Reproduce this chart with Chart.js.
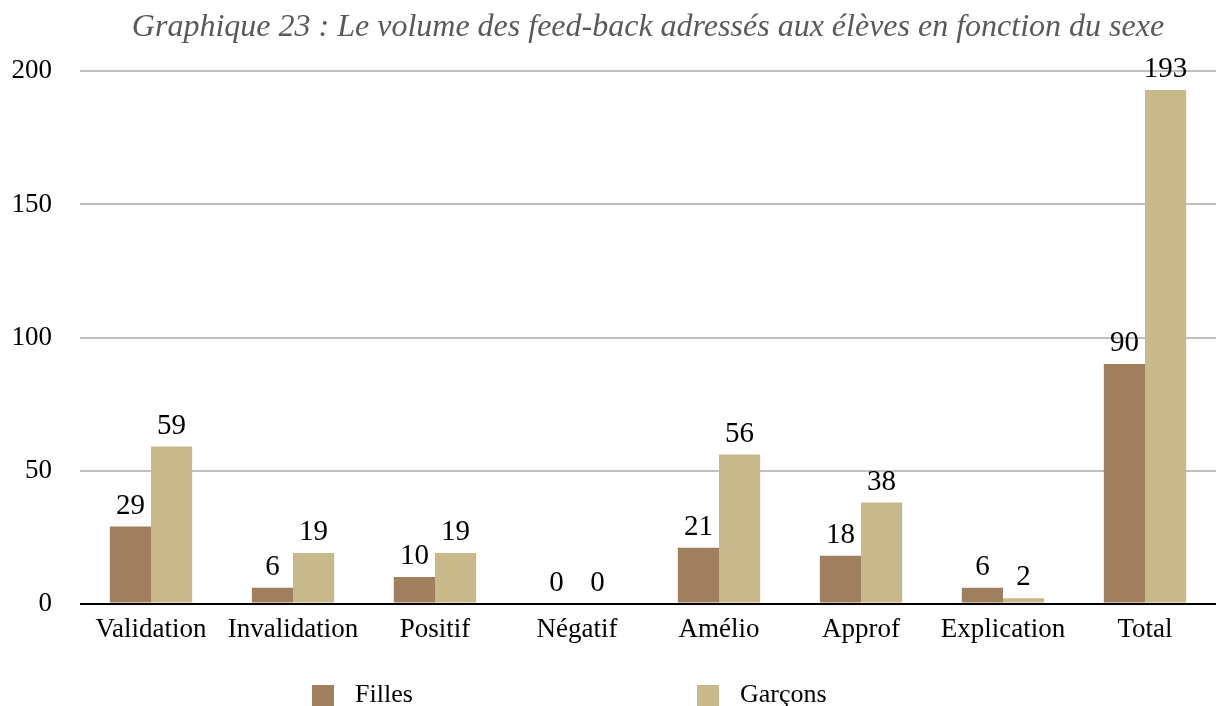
<!DOCTYPE html>
<html>
<head>
<meta charset="utf-8">
<script src="https://cdn.jsdelivr.net/npm/chart.js@4/dist/chart.umd.min.js"></script>
<style>
  html, body { margin: 0; padding: 0; background: #fff; }
  #wrap { position: relative; width: 1216px; height: 706px; overflow: hidden; }
  #legend { position: absolute; left: 0; top: 679px; width: 1216px; height: 27px; font-family: "Liberation Serif", serif; font-size: 26px; color: #000; }
  .item { position: absolute; top: 0; display: flex; align-items: center; }
  .swatch { width: 22px; height: 22px; margin-right: 21px; margin-top: 4px; }
</style>
</head>
<body>
<div id="wrap">
  <canvas id="myChart" width="1216" height="706"></canvas>
  <div id="legend"></div>
</div>
<script>
const categories = ['Validation', 'Invalidation', 'Positif', 'Négatif', 'Amélio', 'Approf', 'Explication', 'Total'];
const filles = [29, 6, 10, 0, 21, 18, 6, 90];
const garcons = [59, 19, 19, 0, 56, 38, 2, 193];
const yTicks = [0, 50, 100, 150, 200];

const serif = '"Liberation Serif", "Times New Roman", serif';

// labels above each bar
const valueLabels = {
  id: 'valueLabels',
  afterDatasetsDraw(chart) {
    const ctx = chart.ctx;
    ctx.save();
    ctx.font = '29px ' + serif;
    ctx.fillStyle = '#000';
    ctx.textAlign = 'center';
    ctx.textBaseline = 'bottom';
    chart.data.datasets.forEach((ds, i) => {
      chart.getDatasetMeta(i).data.forEach((bar, j) => {
        ctx.fillText(String(ds.data[j]), bar.x, bar.y - 6);
      });
    });
    ctx.restore();
  }
};

const chart = new Chart(document.getElementById('myChart').getContext('2d'), {
  type: 'bar',
  data: {
    labels: categories,
    datasets: [{
      label: 'Filles',
      data: filles,
      backgroundColor: '#a07f5f',
      barPercentage: 1,
      categoryPercentage: 0.58
    }, {
      label: 'Garçons',
      data: garcons,
      backgroundColor: '#c8b98b',
      barPercentage: 1,
      categoryPercentage: 0.58
    }]
  },
  options: {
    responsive: false,
    animation: false,
    layout: { padding: { left: 12, right: 0, top: 8, bottom: 50 } },
    plugins: {
      legend: { display: false },
      tooltip: { enabled: false },
      title: {
        display: true,
        fullSize: false,
        text: 'Graphique 23 : Le volume des feed-back adressés aux élèves en fonction du sexe',
        color: '#595959',
        font: { family: serif, size: 32, style: 'italic', weight: 'normal' },
        padding: { top: 0, bottom: 25 }
      }
    },
    scales: {
      x: {
        grid: { display: false, drawTicks: false },
        border: { display: false },
        ticks: { color: '#000', font: { family: serif, size: 27 }, padding: 10, maxRotation: 0, autoSkip: false }
      },
      y: {
        min: 0,
        max: 200,
        afterBuildTicks(axis) { axis.ticks = yTicks.map(v => ({ value: v })); },
        afterFit(axis) { axis.width = 68; },
        grid: {
          color: c => c.tick.value === 0 ? '#000' : '#bfbfbf',
          lineWidth: 2,
          drawTicks: false
        },
        border: { display: false },
        ticks: { color: '#000', font: { family: serif, size: 27 }, padding: 28 }
      }
    }
  },
  plugins: [valueLabels]
});

// legend under the chart, spread like the original
const legend = document.getElementById('legend');
const legendLeft = [312, 697];
chart.data.datasets.forEach((ds, i) => {
  const item = document.createElement('div');
  item.className = 'item';
  item.style.left = legendLeft[i] + 'px';
  const sw = document.createElement('span');
  sw.className = 'swatch';
  sw.style.background = ds.backgroundColor;
  const txt = document.createElement('span');
  txt.textContent = ds.label;
  item.appendChild(sw);
  item.appendChild(txt);
  legend.appendChild(item);
});
</script>
</body>
</html>
